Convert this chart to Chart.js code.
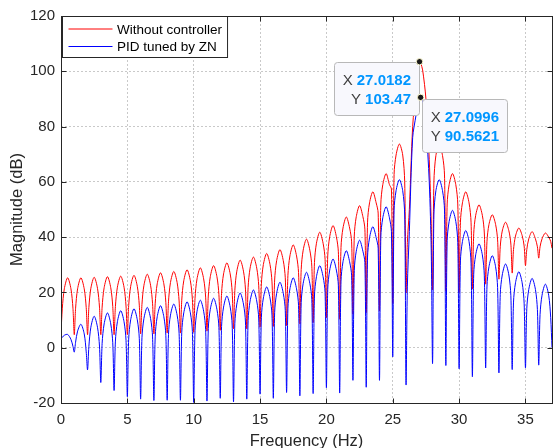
<!DOCTYPE html>
<html lang="en">
<head>
<meta charset="UTF-8">
<title>Magnitude</title>
<script src="https://cdn.jsdelivr.net/npm/chart.js@4.4.1/dist/chart.umd.min.js"></script>
<style>
  html, body { margin: 0; padding: 0; background: #fff; }
  #plot { display: block; }
</style>
</head>
<body>
<canvas id="plot" width="555" height="448"></canvas>
<script>
// frequency samples (Hz): nulls sit on whole Hz, lobe tops on the half Hz
const freqHz = [
  0, 0.1, 0.25, 0.5, 0.75, 0.9,
  1, 1.1, 1.25, 1.5, 1.75, 1.9,
  2, 2.1, 2.25, 2.5, 2.75, 2.9,
  3, 3.1, 3.25, 3.5, 3.75, 3.9,
  4, 4.1, 4.25, 4.5, 4.75, 4.9,
  5, 5.1, 5.25, 5.5, 5.75, 5.9,
  6, 6.1, 6.25, 6.5, 6.75, 6.9,
  7, 7.1, 7.25, 7.5, 7.75, 7.9,
  8, 8.1, 8.25, 8.5, 8.75, 8.9,
  9, 9.1, 9.25, 9.5, 9.75, 9.9,
  10, 10.1, 10.25, 10.5, 10.75, 10.9,
  11, 11.1, 11.25, 11.5, 11.75, 11.9,
  12, 12.1, 12.25, 12.5, 12.75, 12.9,
  13, 13.1, 13.25, 13.5, 13.75, 13.9,
  14, 14.1, 14.25, 14.5, 14.75, 14.9,
  15, 15.1, 15.25, 15.5, 15.75, 15.9,
  16, 16.1, 16.25, 16.5, 16.75, 16.9,
  17, 17.1, 17.25, 17.5, 17.75, 17.9,
  18, 18.1, 18.25, 18.5, 18.75, 18.9,
  19, 19.1, 19.25, 19.5, 19.75, 19.9,
  20, 20.1, 20.25, 20.5, 20.75, 20.9,
  21, 21.1, 21.25, 21.5, 21.75, 21.9,
  22, 22.1, 22.25, 22.5, 22.75, 22.9,
  23, 23.1, 23.25, 23.5, 23.75, 23.9,
  24, 24.1, 24.25, 24.5, 24.75, 24.9,
  25, 25.1, 25.25, 25.5, 25.75, 25.9,
  26, 26.1, 26.25, 26.5, 26.75, 26.9,
  27.0182, 27.0996, 27.25, 27.5, 27.75, 27.9,
  28, 28.1, 28.25, 28.5, 28.75, 28.9,
  29, 29.1, 29.25, 29.5, 29.75, 29.9,
  30, 30.1, 30.25, 30.5, 30.75, 30.9,
  31, 31.1, 31.25, 31.5, 31.75, 31.9,
  32, 32.1, 32.25, 32.5, 32.75, 32.9,
  33, 33.1, 33.25, 33.5, 33.75, 33.9,
  34, 34.1, 34.25, 34.5, 34.75, 34.9,
  35, 35.1, 35.25, 35.5, 35.75, 35.9,
  36, 36.1, 36.25, 36.5, 36.75, 36.9,
  37
];

// magnitude in dB, open loop
const withoutController = [
  5.3, 14.3, 21.3, 25.3, 21.3, 14.3,
  4.7, 14.3, 21.3, 25.3, 21.3, 14.5,
  4.7, 14.5, 21.5, 25.5, 21.5, 14.7,
  4.7, 14.7, 21.7, 25.7, 21.7, 14.9,
  4.7, 14.9, 21.9, 25.9, 21.9, 15.1,
  4.7, 15.2, 22.2, 26.2, 22.2, 15.4,
  5.0, 15.6, 22.6, 26.6, 22.6, 15.9,
  5.0, 16.1, 23.1, 27.1, 23.1, 16.4,
  5.3, 16.6, 23.6, 27.6, 23.6, 16.9,
  5.3, 17.2, 24.2, 28.2, 24.2, 17.5,
  5.6, 17.9, 24.9, 28.9, 24.9, 18.3,
  6.0, 18.7, 25.7, 29.7, 25.7, 19.2,
  6.3, 19.7, 26.7, 30.7, 26.7, 20.2,
  6.8, 20.7, 27.7, 31.7, 27.7, 21.2,
  6.8, 21.8, 28.8, 32.8, 28.8, 22.4,
  7.4, 23.1, 30.1, 34.1, 30.1, 23.8,
  7.7, 24.5, 31.5, 35.5, 31.5, 25.3,
  8.0, 26.2, 33.2, 37.2, 33.2, 27.2,
  8.6, 28.3, 35.3, 39.3, 35.3, 29.5,
  9.1, 30.8, 37.8, 41.8, 37.8, 32.0,
  10.9, 33.2, 40.2, 44.2, 40.2, 34.7,
  10.3, 36.3, 43.3, 47.3, 43.3, 38.3,
  12.1, 40.4, 47.4, 51.4, 47.4, 42.9,
  12.7, 45.4, 52.4, 56.4, 52.4, 48.7,
  13.3, 52.0, 59.0, 63.0, 59.0, 57.4,
  16.0, 62.7, 69.7, 73.7, 69.7, 60.0,
  20.0, 38.0, 50.0, 80.0, 94.0, 101.0,
  103.47, 103.0, 100.5, 90.0, 68.0, 45.0,
  21.0, 60.0, 69.5, 73.5, 69.5, 62.5,
  20.5, 52.0, 59.0, 63.0, 59.0, 52.0,
  20.0, 45.4, 52.4, 56.4, 52.4, 45.4,
  21.2, 41.2, 47.9, 51.7, 47.9, 41.5,
  23.0, 38.5, 44.6, 48.1, 44.6, 39.0,
  24.8, 36.5, 42.2, 45.4, 42.3, 37.5,
  27.0, 35.5, 40.4, 43.3, 40.6, 36.8,
  29.7, 35.5, 39.4, 42.0, 39.4, 36.5,
  32.4, 36.5, 39.4, 41.5, 40.0, 38.5,
  36.0
];

// magnitude in dB, with the Ziegler-Nichols PID
const pidTunedZN = [
  3.3, 3.8, 4.5, 4.8, 3.0, 0.5,
  -1.6, 2.0, 6.0, 8.5, 5.0, -1.5,
  -8.0, 0.4, 7.4, 11.4, 7.4, 0.6,
  -12.6, 1.6, 8.6, 12.6, 8.6, 1.8,
  -15.5, 2.4, 9.4, 13.4, 9.4, 2.7,
  -17.7, 3.1, 10.1, 14.1, 10.1, 3.4,
  -18.6, 3.6, 10.6, 14.6, 10.6, 3.9,
  -19.1, 4.2, 11.2, 15.2, 11.2, 4.5,
  -19.0, 4.8, 11.8, 15.8, 11.8, 5.2,
  -19.0, 5.6, 12.6, 16.6, 12.6, 5.9,
  -19.8, 6.2, 13.2, 17.2, 13.2, 6.5,
  -19.3, 6.9, 13.9, 17.9, 13.9, 7.3,
  -18.3, 7.7, 14.7, 18.7, 14.7, 8.2,
  -19.6, 8.8, 15.8, 19.8, 15.8, 9.3,
  -18.6, 9.9, 16.9, 20.9, 16.9, 10.4,
  -16.8, 11.0, 18.0, 22.0, 18.0, 11.8,
  -18.3, 12.7, 19.7, 23.7, 19.7, 13.5,
  -16.2, 14.3, 21.3, 25.3, 21.3, 15.3,
  -17.4, 16.3, 23.3, 27.3, 23.3, 17.5,
  -16.6, 18.7, 25.7, 29.7, 25.7, 19.9,
  -14.5, 21.1, 28.1, 32.1, 28.1, 22.6,
  -16.4, 24.1, 31.1, 35.1, 31.1, 26.0,
  -11.8, 27.9, 34.9, 38.9, 34.9, 30.8,
  -14.3, 32.8, 39.8, 43.8, 39.8, 36.0,
  -11.8, 40.0, 47.0, 51.0, 47.0, 42.0,
  -3.3, 49.8, 56.8, 60.8, 56.8, 48.0,
  -13.3, 22.0, 42.0, 76.0, 84.0, 88.5,
  90.3, 90.5621, 89.0, 80.0, 60.0, 35.0,
  -5.7, 48.0, 56.8, 60.8, 56.8, 49.8,
  -6.4, 38.7, 45.7, 49.7, 45.7, 38.0,
  -7.6, 31.4, 38.4, 42.4, 38.4, 30.6,
  -10.5, 26.6, 33.6, 37.6, 33.6, 26.0,
  -7.3, 22.3, 29.3, 33.3, 29.3, 21.8,
  -9.1, 19.3, 26.3, 30.3, 26.3, 18.8,
  -7.9, 16.5, 23.5, 27.5, 23.5, 16.1,
  -7.3, 14.1, 21.1, 25.1, 21.1, 13.8,
  -6.3, 12.0, 19.0, 23.0, 19.0, 11.0,
  0.0
];

const seriesNames = ['Without controller', 'PID tuned by ZN'];
const seriesColors = ['#ff0000', '#0000ff'];

// data tips: [series index, frequency of the marked sample, box side]
const dataTips = [
  [0, 27.0182, 'left'],
  [1, 27.0996, 'right']
];

const FONT = '"Liberation Sans", Arial, Helvetica, sans-serif';
const INK = '#262626';

function pts(ys) {
  return freqHz.map((f, i) => ({ x: f, y: ys[i] }));
}

// MATLAB-ish %g with 6 significant digits
function fmt(v) {
  return String(parseFloat(v.toPrecision(6)));
}

// axes box with inward tick marks on all four sides
const axesBox = {
  id: 'axesBox',
  afterDatasetsDraw(chart) {
    const { ctx, chartArea: a, scales: { x, y } } = chart;
    const L = Math.round(a.left) + 0.5, R = Math.round(a.right) + 0.5;
    const T = Math.round(a.top) + 0.5, B = Math.round(a.bottom) + 0.5;
    const len = 5;
    ctx.save();
    ctx.strokeStyle = INK;
    ctx.lineWidth = 1;
    ctx.strokeRect(L, T, R - L, B - T);
    ctx.beginPath();
    x.ticks.forEach(t => {
      const px = Math.round(x.getPixelForValue(t.value)) + 0.5;
      ctx.moveTo(px, B); ctx.lineTo(px, B - len);
      ctx.moveTo(px, T); ctx.lineTo(px, T + len);
    });
    y.ticks.forEach(t => {
      const py = Math.round(y.getPixelForValue(t.value)) + 0.5;
      ctx.moveTo(L, py); ctx.lineTo(L + len, py);
      ctx.moveTo(R, py); ctx.lineTo(R - len, py);
    });
    ctx.stroke();
    ctx.restore();
  }
};

// boxed legend in the upper left corner of the axes
const legendBox = {
  id: 'legendBox',
  afterDraw(chart) {
    const { ctx, chartArea: a } = chart;
    ctx.save();
    ctx.font = '13.5px ' + FONT;
    const textW = Math.max(...chart.data.datasets.map(d => ctx.measureText(d.label).width));
    const x0 = Math.round(a.left) + 1.5, y0 = Math.round(a.top) + 0.5;
    const w = 55 + textW + 5, h = 41;
    ctx.fillStyle = '#fff';
    ctx.fillRect(x0, y0, w, h);
    ctx.strokeStyle = INK;
    ctx.lineWidth = 1;
    ctx.strokeRect(x0, y0, w, h);
    chart.data.datasets.forEach((d, i) => {
      const ly = y0 + 12.5 + i * 17.5;
      ctx.strokeStyle = d.borderColor;
      ctx.beginPath();
      ctx.moveTo(x0 + 6, ly);
      ctx.lineTo(x0 + 50, ly);
      ctx.stroke();
      ctx.fillStyle = '#000';
      ctx.textBaseline = 'middle';
      ctx.textAlign = 'left';
      ctx.fillText(d.label, x0 + 54.5, ly + 1);
    });
    ctx.restore();
  }
};

// data tip markers and their value boxes
const tipBoxes = {
  id: 'tipBoxes',
  afterDraw(chart) {
    const { ctx, scales: { x, y } } = chart;
    ctx.save();
    dataTips.forEach(([si, f, side]) => {
      const pt = chart.data.datasets[si].data[freqHz.indexOf(f)];
      const px = x.getPixelForValue(pt.x), py = y.getPixelForValue(pt.y);
      const rows = [['X', fmt(pt.x)], ['Y', fmt(pt.y)]];
      const numFont = 'bold 15px ' + FONT, lblFont = '15px ' + FONT;
      ctx.font = numFont;
      const numW = Math.max(...rows.map(r => ctx.measureText(r[1]).width));
      ctx.font = lblFont;
      const lblW = ctx.measureText('X').width;
      const w = Math.round(numW + lblW + 4 + 17), h = 53;
      const bx = side === 'left' ? Math.round(px - 1 - w) + 0.5 : Math.round(px + 1) + 0.5;
      const by = side === 'left' ? Math.round(py) + 0.5 : Math.round(py + 1.5) + 0.5;

      ctx.fillStyle = '#f8f8fd';
      ctx.strokeStyle = '#b8b8b8';
      ctx.lineWidth = 1;
      ctx.beginPath();
      ctx.roundRect(bx, by, w, h, 3);
      ctx.fill();
      ctx.stroke();

      const right = bx + w - 8.5;
      ctx.textBaseline = 'middle';
      ctx.textAlign = 'right';
      rows.forEach(([lbl, num], r) => {
        const ty = by + 18 + r * 19;
        ctx.font = numFont;
        ctx.fillStyle = '#0096ff';
        ctx.fillText(num, right, ty);
        const nw = ctx.measureText(num).width;
        ctx.font = lblFont;
        ctx.fillStyle = '#404040';
        ctx.fillText(lbl, right - nw - 4, ty);
      });

      ctx.beginPath();
      ctx.arc(px, py, 3.2, 0, Math.PI * 2);
      ctx.fillStyle = '#1a1a1a';
      ctx.fill();
      ctx.strokeStyle = '#fffbd0';
      ctx.lineWidth = 1;
      ctx.stroke();
    });
    ctx.restore();
  }
};

const gridStyle = { color: '#c9c9c9', lineWidth: 1, drawTicks: false };

new Chart(document.getElementById('plot'), {
  type: 'line',
  data: {
    datasets: [
      { label: seriesNames[0], data: pts(withoutController), borderColor: seriesColors[0], order: 2 },
      { label: seriesNames[1], data: pts(pidTunedZN), borderColor: seriesColors[1], order: 1 }
    ]
  },
  options: {
    responsive: false,
    animation: false,
    devicePixelRatio: 1,
    parsing: false,
    elements: {
      line: { borderWidth: 1, tension: 0.3, fill: false },
      point: { radius: 0 }
    },
    layout: { padding: { top: 16, right: 3, left: 0, bottom: 0 } },
    plugins: { legend: { display: false }, tooltip: { enabled: false } },
    scales: {
      x: {
        type: 'linear', min: 0, max: 37,
        grid: gridStyle,
        border: { display: false, dash: [2, 2] },
        ticks: { stepSize: 5, includeBounds: false, padding: 8, maxRotation: 0, color: INK, font: { family: FONT, size: 15 } },
        title: { display: true, text: 'Frequency (Hz)', color: INK, font: { family: FONT, size: 16.5, lineHeight: 1 }, padding: { top: 0, bottom: -2 } },
        afterFit(s) { s.height = 45; }
      },
      y: {
        min: -20, max: 120,
        grid: gridStyle,
        border: { display: false, dash: [2, 2] },
        ticks: { stepSize: 20, padding: 6, color: INK, font: { family: FONT, size: 15 } },
        title: { display: true, text: 'Magnitude (dB)', color: INK, font: { family: FONT, size: 16.5, lineHeight: 1 }, padding: { top: 9, bottom: 0 } },
        afterFit(s) { s.width = 61; }
      }
    }
  },
  plugins: [axesBox, legendBox, tipBoxes]
});
</script>
</body>
</html>
